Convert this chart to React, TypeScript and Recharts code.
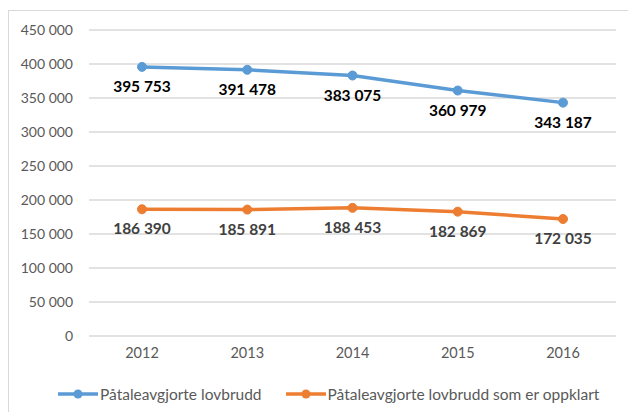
import React from 'react';
import { LineChart, Line, XAxis, YAxis, CartesianGrid, Legend, LabelList } from 'recharts';

const years = ['2012', '2013', '2014', '2015', '2016'];
const avgjorte = [395753, 391478, 383075, 360979, 343187];
const oppklart = [186390, 185891, 188453, 182869, 172035];
const yTicks = [0, 50000, 100000, 150000, 200000, 250000, 300000, 350000, 400000, 450000];

const seriesNames = {
    avgjorte: 'Påtaleavgjorte lovbrudd',
    oppklart: 'Påtaleavgjorte lovbrudd som er oppklart',
};

const data = years.map((year, i) => ({
    year,
    avgjorte: avgjorte[i],
    oppklart: oppklart[i],
}));

const BLUE = '#5B9BD5';
const ORANGE = '#ED7D31';

const fmt = (v: number) => String(v).replace(/\B(?=(\d{3})+(?!\d))/g, ' ');

const renderLegend = (props: any) => {
    const { payload } = props;
    return (
        <div style={{ display: 'flex', paddingLeft: 58, alignItems: 'center', height: 20, width: 600, whiteSpace: 'nowrap' }}>
            {payload.map((entry: any) => (
                <div key={entry.value} style={{ display: 'flex', alignItems: 'center', marginRight: 24, flexShrink: 0 }}>
                    <svg width={40} height={12} style={{ marginRight: 2, flexShrink: 0 }}>
                        <line x1={0} y1={6} x2={40} y2={6} stroke={entry.color} strokeWidth={3.5} />
                        <circle cx={20} cy={6} r={4.5} fill={entry.color} />
                    </svg>
                    <span style={{ color: '#595959', fontSize: 15.5 }}>{entry.value}</span>
                </div>
            ))}
        </div>
    );
};

export default function App() {
    return (
        <div
            style={{
                position: 'absolute',
                left: 0,
                top: 0,
                width: 628,
                height: 412,
                overflow: 'hidden',
                background: '#fff',
                fontFamily: 'Lato, "Open Sans", sans-serif',
            }}
        >
            <div
                style={{
                    position: 'absolute',
                    left: 8,
                    top: 10,
                    width: 640,
                    height: 420,
                    border: '1px solid #d9d9d9',
                }}
            />
            <LineChart
                width={628}
                height={412}
                data={data}
                margin={{ top: 30, right: 12, bottom: 16, left: 0 }}
                style={{ position: 'absolute', left: 0, top: 0 }}
            >
                <CartesianGrid vertical={false} stroke="#d9d9d9" strokeWidth={1.5} />
                <XAxis
                    dataKey="year"
                    axisLine={false}
                    tickLine={false}
                    tickSize={0}
                    tickMargin={12}
                    height={40}
                    padding={{ left: 53, right: 53 }}
                    tick={{ fill: '#595959', fontSize: 14.5 }}
                />
                <YAxis
                    width={89}
                    domain={[0, 450000]}
                    ticks={yTicks}
                    axisLine={false}
                    tickLine={false}
                    tickSize={0}
                    tickMargin={16}
                    tickFormatter={fmt}
                    tick={{ fill: '#595959', fontSize: 14 }}
                />
                <Legend
                    content={renderLegend}
                    verticalAlign="bottom"
                    wrapperStyle={{ left: 0, bottom: 8, width: 628 }}
                />
                <Line
                    dataKey="avgjorte"
                    name={seriesNames.avgjorte}
                    stroke={BLUE}
                    strokeWidth={3.5}
                    dot={{ r: 4.5, fill: BLUE, stroke: BLUE, strokeWidth: 1 }}
                    isAnimationActive={false}
                >
                    <LabelList
                        dataKey="avgjorte"
                        position="bottom"
                        offset={14}
                        formatter={(v: any) => fmt(Number(v))}
                        style={{ fill: '#000', fontSize: 15.5, fontWeight: 700 }}
                    />
                </Line>
                <Line
                    dataKey="oppklart"
                    name={seriesNames.oppklart}
                    stroke={ORANGE}
                    strokeWidth={3.5}
                    dot={{ r: 4.5, fill: ORANGE, stroke: ORANGE, strokeWidth: 1 }}
                    isAnimationActive={false}
                >
                    <LabelList
                        dataKey="oppklart"
                        position="bottom"
                        offset={14}
                        formatter={(v: any) => fmt(Number(v))}
                        style={{ fill: '#404040', fontSize: 15.5, fontWeight: 700 }}
                    />
                </Line>
            </LineChart>
        </div>
    );
}
